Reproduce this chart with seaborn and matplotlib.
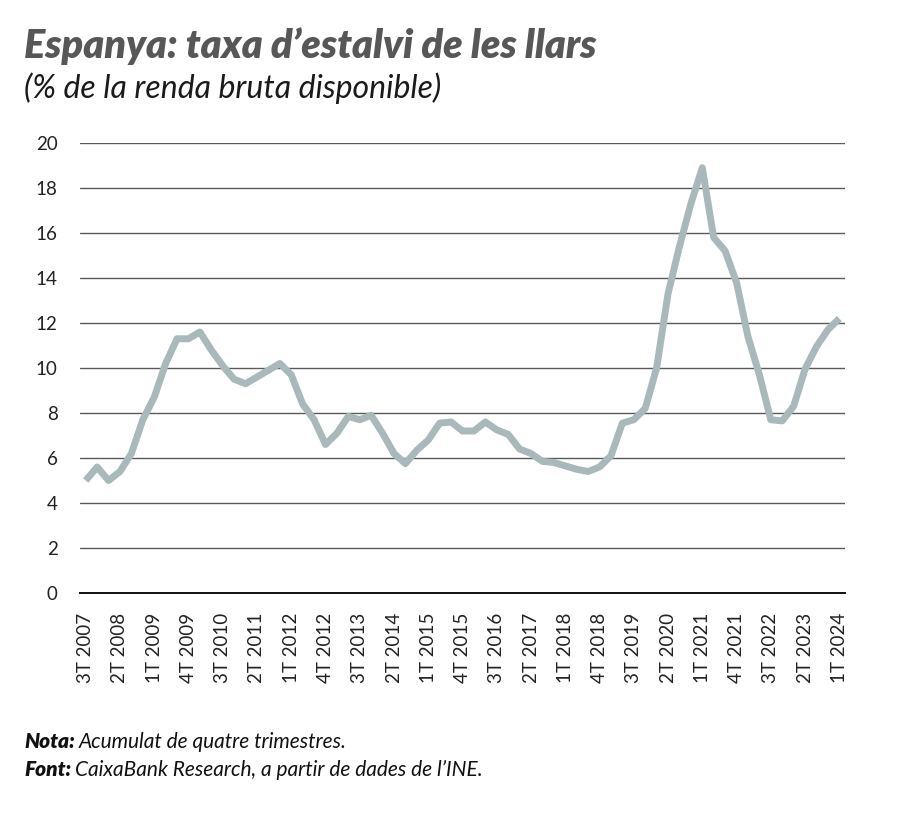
import seaborn as sns
import matplotlib.pyplot as plt
import matplotlib.ticker as mticker
import pandas as pd

# trimestres 3T 2007 .. 1T 2024
trimestres = [f"{q}T {y}" for y in range(2007, 2025) for q in range(1, 5)][2:-3]

taxa_estalvi = [
    5.0, 5.6, 5.0, 5.4, 6.2, 7.7, 8.7, 10.2, 11.3, 11.3,
    11.6, 10.8, 10.1, 9.5, 9.3, 9.6, 9.9, 10.2, 9.7, 8.4,
    7.7, 6.6, 7.1, 7.85, 7.7, 7.9, 7.1, 6.2, 5.75, 6.35,
    6.8, 7.55, 7.6, 7.2, 7.2, 7.6, 7.25, 7.05, 6.4, 6.2,
    5.85, 5.8, 5.65, 5.5, 5.4, 5.6, 6.1, 7.55, 7.7, 8.2,
    10.0, 13.3, 15.4, 17.3, 18.9, 15.8, 15.2, 13.8, 11.4, 9.7,
    7.7, 7.65, 8.3, 9.95, 10.95, 11.7, 12.2,
]

df = pd.DataFrame({"pos": range(len(trimestres)), "taxa": taxa_estalvi})

sns.set_style("white")
plt.rcParams['font.family'] = ['Lato', 'DejaVu Sans']

fig = plt.figure(figsize=(9, 8.13), dpi=100)
ax = fig.add_axes([0.0889, 0.2706, 0.8500, 0.5535])

sns.lineplot(data=df, x="pos", y="taxa", ax=ax, color="#a9b8bb", linewidth=5,
             solid_capstyle="butt", solid_joinstyle="round")

ax.set_xlim(-0.5, len(trimestres) - 0.5)
ax.set_ylim(0, 20)
ax.yaxis.set_major_locator(mticker.MultipleLocator(2))
ax.grid(axis="y", color="#5a5a5a", linewidth=1.0)
ax.set_axisbelow(True)

# etiquetes cada 3 trimestres, marques entre categories
pos_etiq = list(range(0, len(trimestres), 3))
ax.set_xticks(pos_etiq)
ax.set_xticklabels([trimestres[i] for i in pos_etiq], rotation=90, fontsize=13.5, color="#222222")
ax.set_xticks([p - 0.5 for p in pos_etiq], minor=True)
ax.tick_params(axis="x", which="major", length=0, pad=14)
ax.tick_params(axis="x", which="minor", direction="in", length=5.5, width=1.3, color="#111111")
ax.tick_params(axis="y", length=0, pad=16, labelsize=13.5, labelcolor="#222222")

for s in ["top", "right", "left"]:
    ax.spines[s].set_visible(False)
ax.spines["bottom"].set_color("#111111")
ax.spines["bottom"].set_linewidth(1.4)
ax.set_xlabel("")
ax.set_ylabel("")

fig.text(0.027, 0.929, "Espanya: taxa d\u2019estalvi de les llars", fontsize=28.5,
         fontweight="heavy", fontstyle="italic", color="#575757")
fig.text(0.027, 0.879, "(% de la renda bruta disponible)", fontsize=23,
         fontstyle="italic", color="#1a1a1a")

# notes: part en negreta seguida del text normal
renderer = fig.canvas.get_renderer()
for y, cap, resta in [(0.080, "Nota:", "Acumulat de quatre trimestres."),
                      (0.046, "Font:", "CaixaBank Research, a partir de dades de l\u2019INE.")]:
    t = fig.text(0.027, y, cap, fontsize=15, fontweight="heavy", fontstyle="italic",
                 color="#111111")
    bb = t.get_window_extent(renderer=renderer)
    x2 = (bb.x1 + 4) / fig.bbox.width
    fig.text(x2, y, resta, fontsize=15, fontstyle="italic", color="#111111")

fig.savefig("out.png", dpi=100)
